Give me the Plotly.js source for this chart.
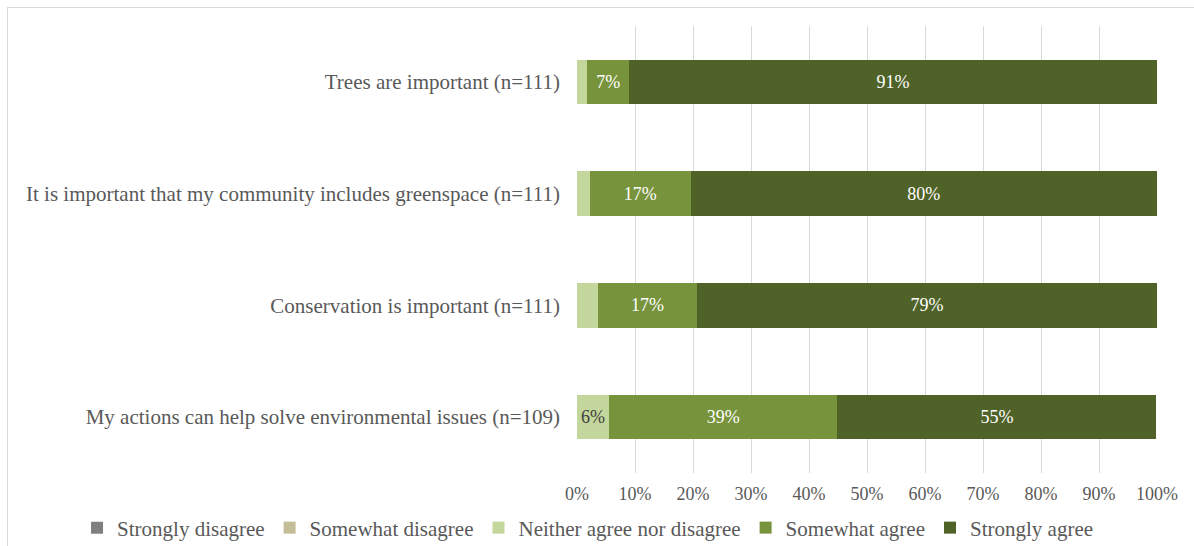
<!DOCTYPE html>
<html>
<head>
<meta charset="utf-8">
<script src="https://cdn.plot.ly/plotly-3.0.1.min.js"></script>
<style>
  html, body { margin: 0; padding: 0; background: #ffffff; }
  #wrap { position: relative; width: 1194px; height: 546px; overflow: hidden; }
  #chart { position: absolute; left: 0; top: 0; width: 1194px; height: 546px; }
  #frame { position: absolute; left: 7px; top: 7px; width: 1400px; height: 700px;
           border-left: 1px solid #d9d9d9; border-top: 1px solid #d9d9d9; pointer-events: none; }
</style>
</head>
<body>
<div id="wrap">
  <div id="chart"></div>
  <div id="frame"></div>
</div>
<script>
// Survey statements (top to bottom)
const statements = [
  "Trees are important (n=111)",
  "It is important that my community includes greenspace (n=111)",
  "Conservation is important (n=111)",
  "My actions can help solve environmental issues (n=109)"
];

// Share of responses per statement, in percent
const stronglyDisagree = [0, 0, 0, 0];
const somewhatDisagree = [0, 0, 0, 0];
const neitherAgree     = [1.8, 2.2, 3.6, 5.5];
const somewhatAgree    = [7.2, 17.4, 17.1, 39.4];
const stronglyAgree    = [91.0, 80.4, 79.3, 55.0];

const responseLabels = [
  "Strongly disagree",
  "Somewhat disagree",
  "Neither agree nor disagree",
  "Somewhat agree",
  "Strongly agree"
];

const xTicks = [0, 10, 20, 30, 40, 50, 60, 70, 80, 90, 100];

const series = [stronglyDisagree, somewhatDisagree, neitherAgree, somewhatAgree, stronglyAgree];
const colors = ["#7f7f7f", "#c4bd97", "#c3d69b", "#77933c", "#4f6228"];
const labelColors = ["#ffffff", "#404040", "#404040", "#ffffff", "#ffffff"];

const FONT = "'Liberation Serif', 'Times New Roman', serif";

// only segments wide enough carry a percentage label
function segmentText(vals) {
  return vals.map(v => (v >= 5 ? Math.round(v) + "%" : ""));
}

const traces = series.map((vals, i) => ({
  type: "bar",
  orientation: "h",
  name: responseLabels[i],
  y: statements,
  x: vals,
  marker: { color: colors[i], line: { width: 0 } },
  text: segmentText(vals),
  textposition: "inside",
  insidetextanchor: "middle",
  constraintext: "none",
  textfont: { family: FONT, size: 18, color: labelColors[i] },
  hoverinfo: "name+x"
}));

const layout = {
  barmode: "stack",
  bargap: 0.6,
  width: 1194,
  height: 546,
  paper_bgcolor: "rgba(0,0,0,0)",
  plot_bgcolor: "#ffffff",
  margin: { l: 577, r: 37, t: 26, b: 73, autoexpand: false },
  font: { family: FONT, size: 18, color: "#595959" },
  xaxis: {
    range: [0, 100],
    tickvals: xTicks,
    ticktext: xTicks.map(t => t + "%"),
    showgrid: true,
    gridcolor: "#d9d9d9",
    gridwidth: 1,
    zeroline: false,
    showline: false,
    ticks: "",
    ticklabelstandoff: 8,
    tickfont: { family: FONT, size: 18, color: "#595959" },
    fixedrange: true
  },
  yaxis: {
    autorange: "reversed",
    showgrid: false,
    zeroline: false,
    showline: false,
    ticks: "",
    ticklabelstandoff: 16,
    tickfont: { family: FONT, size: 21, color: "#595959" },
    fixedrange: true
  },
  showlegend: true,
  legend: {
    orientation: "h",
    traceorder: "normal",
    x: -0.862,
    xanchor: "left",
    y: -0.123,
    yanchor: "middle",
    font: { family: FONT, size: 21, color: "#595959" },
    itemclick: false,
    itemdoubleclick: false
  }
};

Plotly.newPlot("chart", traces, layout, { displayModeBar: false, staticPlot: true });
</script>
</body>
</html>
